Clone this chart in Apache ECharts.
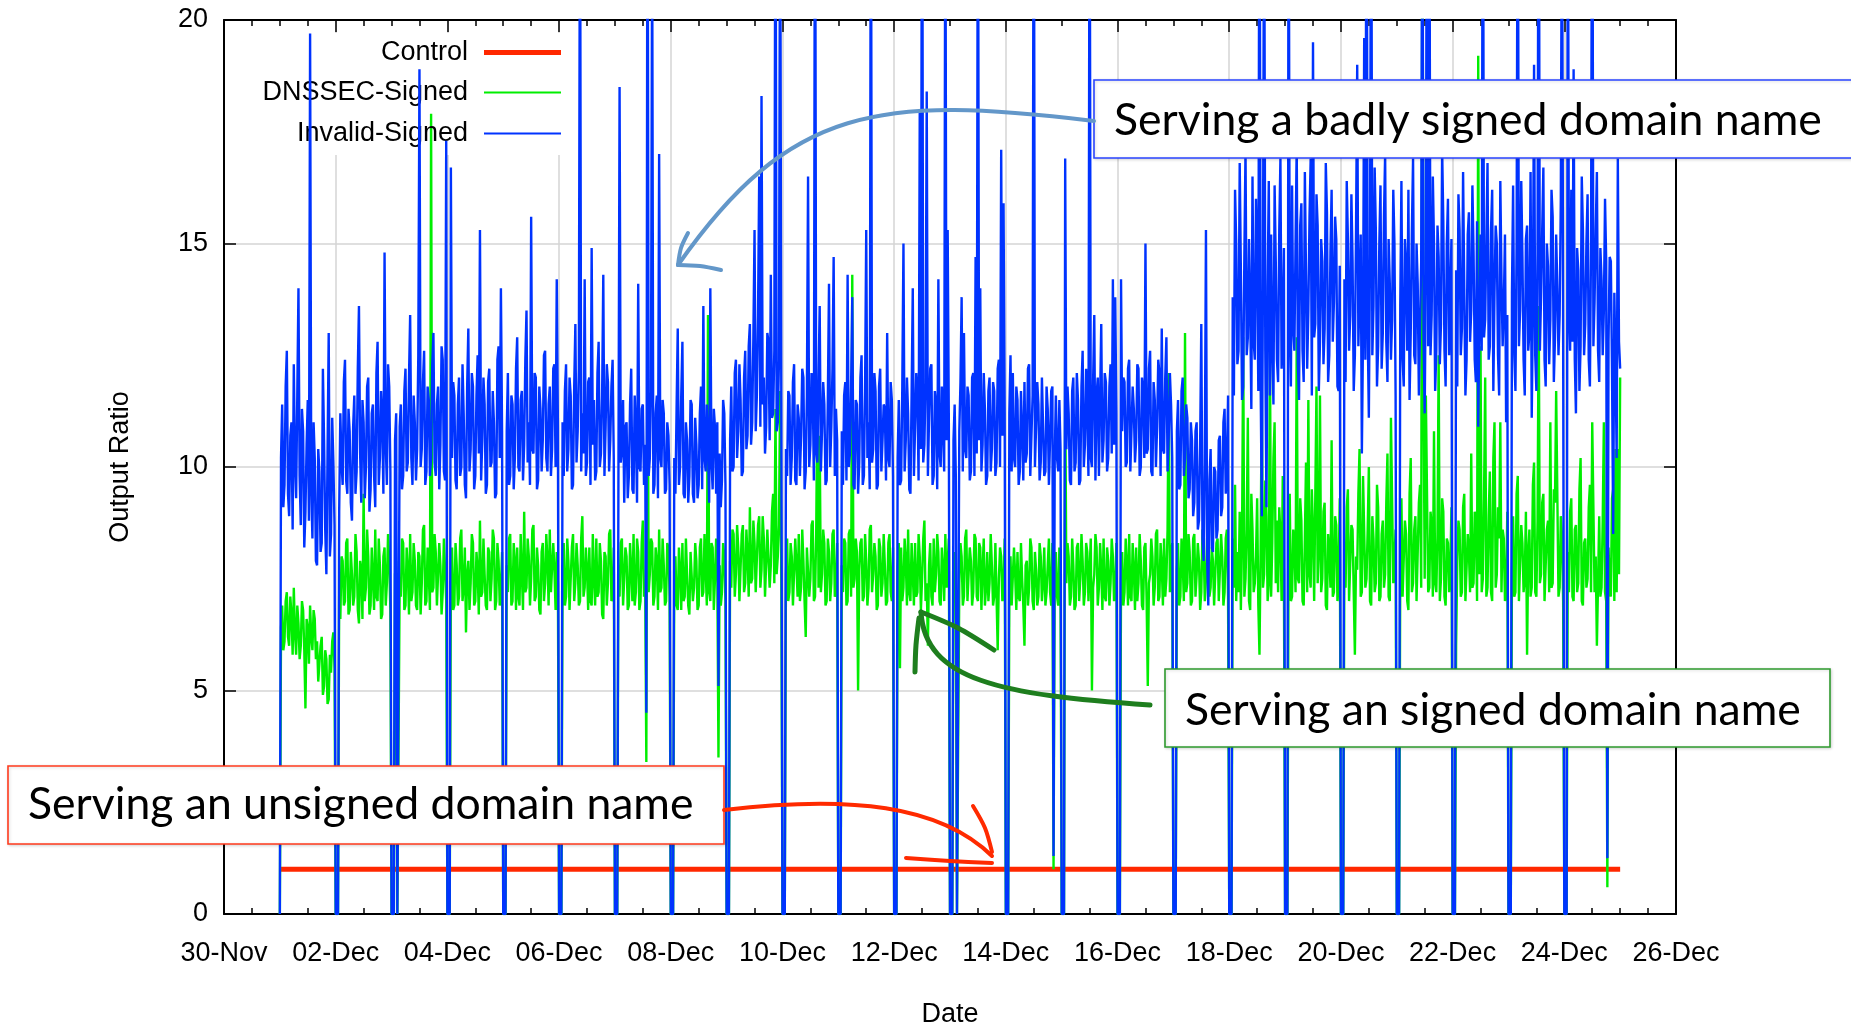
<!DOCTYPE html>
<html>
<head>
<meta charset="utf-8">
<script src="https://cdn.jsdelivr.net/npm/echarts@6/dist/echarts.min.js"></script>
<style>
  html, body { margin: 0; padding: 0; background: #ffffff; overflow: hidden; }
  #chart { width: 1851px; height: 1025px; }
</style>
</head>
<body>
<div id="chart"></div>
<script>
// Axis tick labels (x axis is counted in days after 30-Nov)
const xTickLabels = ['30-Nov', '02-Dec', '04-Dec', '06-Dec', '08-Dec', '10-Dec', '12-Dec',
                     '14-Dec', '16-Dec', '18-Dec', '20-Dec', '22-Dec', '24-Dec', '26-Dec'];
const seriesNames = ['Control', 'DNSSEC-Signed', 'Invalid-Signed'];

// Sampling: measurements start on 01-Dec, one sample every 30 minutes
const firstDay = 1;
const samplesPerDay = 48;

// Control: one value per day, 01-Dec .. 25-Dec
const controlDaily = [1.0, 1.0, 1.0, 1.0, 1.0, 1.0, 1.0, 1.0, 1.0, 1.0, 1.0, 1.0, 1.0,
                      1.0, 1.0, 1.0, 1.0, 1.0, 1.0, 1.0, 1.0, 1.0, 1.0, 1.0, 1.0];

// DNSSEC-Signed: one row per day (01-Dec .. 24-Dec, 48 samples each) plus the closing sample
const dnssecSigned = [
  0, 6.4, 6.9, 5.9, 6.1, 7.0, 7.2, 6.2, 6.0, 7.1, 6.7, 5.8, 7.3, 6.3, 5.8, 6.9, 6.5, 5.7, 6.0, 7.0, 6.8, 5.9, 4.6, 6.6, 6.4, 5.6, 6.9, 6.2, 5.9, 6.8, 6.6, 5.7, 6.1, 5.2, 5.6, 6.0, 6.2, 4.9, 5.1, 5.9, 5.7, 4.7, 4.8, 5.8, 5.4, 6.1, 6.3, 5.5,
  0, 0, 0, 7.2, 6.6, 8.0, 7.9, 6.9, 7.0, 8.3, 8.4, 6.7, 6.8, 8.1, 7.6, 6.9, 7.1, 8.5, 8.1, 6.8, 6.5, 7.9, 7.7, 6.6, 9.4, 7.0, 7.3, 8.6, 8.0, 6.7, 6.9, 8.2, 7.5, 6.8, 8.6, 7.1, 7.0, 8.4, 7.8, 6.6, 6.7, 8.0, 8.2, 6.9, 7.4, 8.5, 7.9, 6.8,
  0, 0, 0, 7.6, 7.9, 0, 0, 7.4, 7.1, 8.4, 8.3, 6.8, 6.9, 8.2, 7.7, 6.7, 8.5, 7.0, 7.2, 8.3, 7.9, 6.9, 6.8, 8.1, 8.0, 6.7, 7.4, 8.6, 8.7, 6.9, 7.0, 8.2, 7.6, 6.8, 17.9, 7.2, 7.3, 8.5, 8.1, 6.9, 6.9, 8.3, 7.8, 6.7, 7.2, 8.4, 8.4, 7.0,
  0, 0, 0, 7.5, 8.2, 6.8, 6.9, 8.3, 7.8, 6.9, 7.1, 8.4, 8.6, 7.0, 7.3, 8.2, 6.3, 7.6, 7.9, 6.8, 7.4, 8.5, 8.3, 6.9, 7.0, 8.1, 7.7, 6.7, 8.8, 7.1, 7.2, 8.4, 7.6, 6.9, 6.8, 8.2, 8.1, 7.0, 7.5, 8.6, 8.4, 6.8, 7.0, 8.3, 7.9, 6.9, 7.3, 8.1,
  0, 0, 0, 7.8, 7.2, 8.4, 8.5, 6.9, 7.0, 8.3, 7.9, 6.8, 8.2, 7.1, 6.9, 8.5, 7.6, 6.8, 9.0, 7.2, 7.3, 8.4, 8.0, 6.9, 7.5, 8.6, 8.7, 7.0, 7.1, 8.2, 7.8, 6.8, 6.7, 8.1, 8.3, 7.0, 7.4, 8.5, 7.9, 6.9, 8.6, 7.2, 7.2, 8.3, 7.7, 6.8, 8.1, 7.4,
  0, 0, 0, 7.6, 8.3, 6.9, 7.1, 8.4, 7.9, 6.8, 6.8, 8.2, 8.5, 7.0, 7.4, 8.3, 7.8, 6.9, 7.0, 8.4, 8.9, 7.1, 7.3, 8.2, 7.7, 6.8, 8.2, 7.0, 6.9, 8.5, 7.5, 6.9, 8.4, 7.1, 7.2, 8.3, 7.9, 6.7, 6.6, 8.1, 8.0, 6.9, 7.4, 8.5, 8.6, 7.0, 7.1, 8.2,
  0, 0, 0, 7.8, 7.1, 8.3, 8.4, 6.9, 7.5, 8.2, 8.0, 6.8, 6.9, 8.3, 7.7, 7.0, 8.5, 6.9, 7.2, 8.4, 8.1, 6.8, 7.0, 8.3, 8.8, 7.1, 7.4, 3.4, 14.0, 7.2, 7.6, 8.4, 8.3, 6.9, 7.1, 8.2, 7.9, 6.8, 8.6, 7.2, 7.3, 8.4, 7.8, 6.9, 7.0, 8.3, 8.2, 7.1,
  0, 0, 0, 7.4, 8.0, 6.9, 6.8, 8.2, 7.7, 6.8, 8.3, 7.0, 7.1, 8.4, 7.6, 6.9, 6.7, 8.1, 8.1, 7.0, 7.3, 8.3, 7.9, 6.8, 6.9, 8.2, 8.4, 7.1, 7.2, 8.5, 7.7, 6.9, 13.4, 7.2, 7.0, 8.3, 8.2, 6.8, 7.5, 8.4, 7.6, 3.5, 7.8, 6.9, 7.2, 8.3, 8.0, 7.0,
  0, 0, 0, 7.9, 7.3, 8.6, 8.5, 7.1, 7.6, 8.7, 8.2, 7.0, 7.0, 8.5, 8.7, 7.2, 7.4, 8.6, 8.0, 7.1, 9.1, 7.4, 7.5, 8.8, 8.3, 7.2, 7.2, 8.7, 8.9, 7.3, 7.7, 8.9, 8.4, 7.1, 7.1, 8.6, 8.6, 7.3, 7.8, 9.0, 9.4, 7.4, 11.3, 7.6, 8.0, 8.7, 11.7, 7.5,
  0, 0, 0, 7.6, 8.4, 7.0, 7.2, 8.3, 8.0, 6.9, 6.9, 8.4, 7.8, 7.1, 8.5, 7.0, 7.3, 8.6, 7.9, 7.0, 6.2, 8.2, 8.2, 7.1, 7.5, 8.7, 8.8, 7.0, 7.1, 8.5, 11.7, 7.3, 10.7, 7.2, 7.6, 8.6, 8.3, 6.9, 7.0, 8.4, 8.1, 7.0, 7.4, 8.5, 8.6, 7.1, 7.2, 8.3,
  0, 0, 0, 7.8, 7.2, 8.4, 8.3, 6.9, 7.0, 8.5, 8.6, 7.1, 14.3, 7.3, 7.5, 8.4, 8.1, 5.0, 7.7, 8.3, 8.4, 7.0, 7.1, 8.5, 7.9, 6.9, 7.3, 8.6, 8.7, 7.2, 7.6, 8.3, 8.0, 6.8, 6.9, 8.4, 8.2, 7.1, 7.4, 8.5, 7.8, 6.9, 7.0, 8.3, 8.5, 7.2, 7.0, 8.2,
  0, 0, 0, 7.7, 8.3, 5.5, 8.2, 7.0, 7.3, 8.4, 7.9, 6.9, 8.6, 7.2, 7.0, 8.3, 7.6, 6.9, 8.3, 7.1, 7.2, 8.5, 8.0, 6.8, 7.5, 8.4, 8.8, 7.0, 7.4, 6.0, 7.8, 8.3, 7.1, 6.9, 8.4, 7.2, 7.6, 8.5, 8.1, 7.0, 6.9, 8.2, 7.7, 7.0, 8.5, 7.3, 7.3, 8.4,
  0, 0, 0, 7.5, 8.1, 7.0, 0, 0, 7.4, 8.3, 8.0, 6.9, 7.1, 8.4, 8.6, 7.0, 7.6, 8.2, 7.9, 6.9, 7.2, 8.5, 8.4, 7.1, 7.0, 8.3, 8.2, 6.8, 7.7, 8.4, 6.9, 7.3, 8.1, 7.0, 7.4, 8.5, 7.8, 6.9, 7.1, 8.3, 8.3, 5.9, 7.5, 8.2, 8.0, 7.0, 7.3, 8.4,
  0, 0, 0, 7.2, 8.0, 6.9, 6.9, 8.2, 7.6, 6.8, 8.1, 7.1, 7.0, 8.3, 7.5, 6.9, 6.0, 7.8, 7.9, 6.9, 7.3, 8.4, 8.2, 7.0, 6.8, 8.1, 7.7, 6.9, 7.1, 8.3, 8.0, 7.0, 7.4, 8.2, 6.9, 7.2, 7.8, 8.4, 7.2, 6.9, 8.3, 1.0, 7.5, 8.1, 7.1, 6.9, 8.2, 7.3,
  0, 0, 0, 12.1, 7.4, 8.3, 8.0, 6.9, 7.1, 8.4, 7.8, 6.8, 6.9, 8.2, 8.3, 7.0, 7.5, 8.5, 7.9, 6.9, 7.2, 8.3, 8.1, 7.0, 7.0, 8.4, 5.0, 7.3, 7.6, 8.5, 8.2, 6.9, 7.3, 8.3, 7.7, 6.8, 8.4, 7.1, 7.0, 8.2, 7.9, 6.9, 7.4, 8.4, 8.0, 7.0, 7.2, 8.3,
  0, 0, 0, 7.5, 8.1, 6.9, 7.2, 8.4, 7.8, 6.9, 8.5, 7.1, 7.0, 8.3, 7.7, 6.8, 8.2, 7.0, 7.4, 8.5, 7.9, 6.9, 6.8, 8.2, 8.3, 7.0, 5.1, 7.4, 7.6, 8.4, 8.0, 6.9, 7.3, 8.5, 8.6, 7.0, 7.1, 8.3, 7.8, 6.9, 8.4, 7.1, 7.5, 8.6, 12.1, 7.2, 7.9, 8.3,
  0, 0, 0, 7.7, 8.3, 6.9, 7.1, 8.4, 7.9, 7.0, 13.0, 7.2, 7.4, 8.5, 8.1, 6.9, 7.0, 8.4, 8.5, 7.1, 7.6, 8.3, 7.9, 6.8, 7.2, 8.6, 8.2, 7.0, 7.5, 8.4, 8.8, 7.1, 7.3, 8.2, 7.9, 6.9, 6.9, 8.3, 8.4, 7.0, 7.7, 8.5, 8.0, 6.9, 7.2, 8.4, 8.6, 7.1,
  0, 0, 0, 8.4, 7.3, 9.6, 7.0, 8.1, 7.2, 9.0, 6.8, 8.3, 12.9, 7.1, 7.5, 8.6, 11.1, 7.0, 6.8, 9.4, 8.6, 7.2, 7.4, 8.0, 9.3, 6.9, 5.8, 8.2, 11.8, 7.3, 7.6, 9.7, 8.9, 7.0, 7.4, 12.7, 7.1, 8.3, 10.2, 11.0, 7.4, 8.8, 7.2, 9.1, 8.5, 7.0, 9.8, 7.6,
  0, 0, 0, 7.8, 9.4, 7.0, 7.1, 8.6, 8.3, 7.2, 12.9, 7.5, 7.4, 9.3, 8.8, 7.0, 6.9, 8.4, 10.1, 7.2, 11.5, 7.6, 7.3, 9.5, 8.6, 7.0, 7.0, 11.8, 7.4, 8.1, 11.6, 7.2, 7.5, 9.0, 9.2, 6.9, 6.8, 8.5, 8.1, 7.3, 10.6, 7.1, 7.2, 8.9, 8.7, 7.0, 7.6, 9.3,
  0, 0, 0, 8.2, 7.3, 9.1, 9.5, 7.0, 7.0, 8.7, 8.6, 7.2, 5.8, 8.0, 7.7, 9.4, 10.4, 7.1, 7.2, 9.8, 9.8, 7.3, 7.5, 8.6, 10.0, 7.0, 6.9, 8.9, 8.4, 7.2, 7.4, 9.6, 9.1, 7.0, 7.1, 8.5, 8.8, 7.3, 7.6, 9.2, 10.3, 7.1, 7.0, 11.1, 11.1, 7.4, 7.9, 8.6,
  0, 0, 0, 7.6, 9.3, 7.1, 7.1, 8.8, 8.5, 7.0, 6.8, 9.4, 10.2, 7.2, 7.4, 8.6, 8.9, 7.0, 7.0, 9.2, 9.6, 7.3, 24.0, 11.8, 7.5, 11.6, 11.6, 7.2, 7.3, 9.0, 8.7, 7.1, 10.8, 7.4, 7.2, 8.5, 12.5, 7.0, 7.5, 9.3, 9.0, 7.1, 6.9, 8.4, 8.3, 7.2, 7.7, 9.1,
  0, 0, 0, 6.0, 7.9, 8.8, 8.6, 7.1, 7.2, 9.1, 9.4, 7.0, 7.0, 8.5, 8.1, 7.2, 10.3, 7.3, 7.4, 9.0, 8.8, 7.0, 19.2, 7.6, 12.7, 7.2, 7.5, 9.3, 12.0, 7.1, 7.3, 8.9, 9.9, 7.2, 7.0, 10.2, 11.0, 7.3, 7.6, 9.1, 8.4, 11.0, 7.2, 8.6, 8.4, 7.0, 7.2, 9.0,
  0, 0, 0, 7.7, 8.9, 7.1, 7.2, 9.4, 9.8, 7.0, 7.0, 8.7, 8.3, 7.2, 7.5, 9.0, 5.8, 8.1, 8.6, 7.1, 7.3, 9.6, 10.1, 7.2, 7.1, 8.8, 13.6, 7.4, 7.6, 9.2, 9.4, 7.0, 7.0, 8.6, 8.8, 7.2, 11.0, 7.3, 7.4, 9.5, 9.2, 11.7, 11.7, 7.1, 7.3, 8.9, 8.5, 7.0,
  0, 0, 0, 8.1, 7.2, 9.0, 9.3, 7.1, 7.0, 8.6, 8.7, 7.2, 7.4, 9.5, 10.2, 7.0, 6.9, 8.3, 8.4, 7.3, 7.5, 9.1, 9.6, 7.2, 11.0, 11.0, 7.2, 8.0, 6.0, 7.4, 8.9, 7.1, 7.3, 8.8, 11.0, 7.2, 7.0, 0.6, 8.2, 7.4, 7.1, 9.3, 9.5, 7.0, 10.4, 7.2, 10.4, 7.6,
  12.0
];

// Invalid-Signed: one row per day (01-Dec .. 24-Dec, 48 samples each) plus the closing sample
const invalidSigned = [
  0, 10.2, 11.4, 9.1, 9.6, 11.8, 12.6, 9.4, 8.9, 10.7, 11.0, 8.6, 12.3, 10.1, 9.3, 11.6, 14.0, 9.8, 8.7, 11.3, 10.8, 8.2, 9.0, 10.5, 11.5, 8.8, 19.7, 9.5, 8.4, 11.0, 10.2, 7.9, 7.8, 10.4, 9.9, 8.1, 8.3, 12.2, 10.6, 8.6, 7.6, 10.3, 13.0, 8.0, 8.5, 11.1, 10.1, 8.7,
  0, 0, 0, 9.0, 11.2, 10.1, 9.6, 11.9, 12.4, 9.7, 9.4, 11.3, 10.8, 9.2, 8.8, 10.9, 11.6, 9.4, 9.9, 12.2, 13.6, 10.3, 9.2, 11.5, 11.0, 9.3, 10.0, 11.8, 12.0, 9.0, 9.5, 11.2, 11.4, 9.8, 9.1, 12.1, 12.8, 9.6, 10.2, 11.7, 11.1, 9.4, 14.8, 10.5, 9.6, 12.3, 11.8, 9.9,
  0, 0, 0, 10.6, 11.2, 0, 0, 10.9, 11.4, 9.5, 9.8, 11.7, 12.2, 9.9, 10.1, 12.0, 13.4, 10.2, 9.6, 11.6, 11.0, 9.7, 10.4, 12.5, 18.9, 10.0, 10.4, 11.9, 12.6, 9.6, 9.9, 11.8, 11.5, 9.8, 10.2, 12.3, 13.0, 10.1, 9.8, 11.4, 11.8, 9.5, 10.5, 12.7, 12.4, 9.9, 9.7, 17.3,
  0, 0, 0, 16.7, 10.2, 11.9, 11.6, 9.7, 9.5, 11.4, 12.0, 9.8, 10.0, 12.3, 11.2, 9.6, 9.3, 11.8, 13.1, 9.9, 10.4, 12.1, 11.8, 9.5, 9.8, 11.6, 12.5, 10.3, 15.3, 9.7, 10.6, 12.0, 11.4, 9.4, 9.6, 11.9, 12.2, 10.0, 10.1, 11.7, 11.0, 9.3, 9.4, 12.4, 12.7, 10.2, 14.0, 10.8,
  0, 0, 0, 10.8, 12.1, 9.6, 9.8, 11.6, 11.4, 9.5, 10.2, 12.2, 12.9, 10.0, 9.9, 11.5, 11.7, 9.7, 10.5, 12.4, 13.5, 10.1, 11.0, 9.6, 15.6, 10.4, 10.3, 12.1, 12.0, 9.5, 9.7, 11.8, 11.3, 9.9, 10.6, 12.5, 12.6, 10.2, 9.9, 11.4, 11.8, 9.8, 10.4, 12.2, 12.3, 10.0, 14.2, 10.9,
  0, 0, 0, 11.0, 9.8, 11.7, 12.3, 9.9, 10.4, 12.0, 11.6, 9.5, 9.6, 11.8, 13.2, 10.1, 10.8, 12.2, 24.0, 9.9, 11.2, 10.3, 14.2, 9.8, 10.1, 11.9, 12.0, 9.6, 14.9, 10.5, 11.5, 9.7, 9.9, 12.1, 12.8, 10.0, 10.3, 11.6, 14.3, 9.8, 10.9, 12.3, 11.9, 9.9, 10.6, 11.8, 12.4, 10.2,
  0, 0, 0, 9.6, 18.5, 10.1, 10.4, 11.5, 9.2, 10.9, 11.0, 9.3, 9.8, 11.4, 12.2, 9.5, 9.4, 11.6, 10.8, 9.2, 14.1, 10.0, 9.9, 11.3, 11.4, 9.6, 10.5, 4.5, 26.0, 9.8, 10.2, 11.7, 22.0, 9.4, 9.6, 11.2, 11.6, 9.3, 17.0, 10.2, 10.0, 11.5, 11.2, 9.4, 9.5, 11.0, 10.7, 9.6,
  0, 0, 0, 10.2, 9.4, 11.3, 13.1, 9.6, 10.0, 11.6, 12.8, 9.4, 9.3, 11.0, 10.6, 9.2, 9.8, 11.5, 11.4, 9.4, 9.2, 11.1, 10.5, 9.3, 9.6, 11.2, 11.8, 9.5, 13.6, 10.2, 9.9, 11.4, 10.4, 9.2, 14.0, 10.1, 9.5, 11.3, 10.9, 9.4, 11.0, 5.1, 10.3, 9.1, 9.7, 11.5, 11.2, 9.6,
  0, 0, 0, 10.6, 11.8, 9.9, 10.0, 12.1, 12.4, 10.2, 10.8, 12.3, 11.5, 9.8, 9.9, 12.0, 12.6, 10.4, 10.7, 12.7, 13.2, 10.5, 11.0, 12.9, 15.3, 10.8, 11.6, 13.4, 16.5, 10.9, 18.3, 11.4, 12.0, 10.3, 10.9, 13.0, 12.8, 10.6, 14.3, 11.1, 11.2, 12.6, 25.0, 10.8, 11.0, 12.4, 24.0, 11.5,
  0, 0, 0, 10.4, 9.8, 11.7, 11.6, 9.6, 10.2, 11.9, 12.3, 9.7, 9.6, 11.4, 11.1, 9.8, 10.7, 12.2, 12.0, 9.5, 9.9, 11.6, 16.5, 10.0, 10.5, 12.1, 11.8, 9.7, 26.0, 10.3, 10.1, 12.0, 13.6, 9.9, 10.8, 11.9, 11.4, 9.6, 9.7, 11.5, 14.1, 10.0, 10.9, 12.2, 14.7, 9.8, 11.3, 10.6,
  0, 0, 0, 10.8, 9.6, 11.6, 11.9, 9.7, 14.3, 10.0, 10.3, 11.8, 13.8, 9.6, 9.5, 11.5, 11.4, 9.4, 10.1, 12.0, 12.5, 9.6, 9.8, 11.7, 15.3, 10.2, 11.0, 9.5, 25.0, 10.1, 10.4, 12.1, 11.7, 9.5, 9.6, 11.8, 12.2, 9.9, 10.6, 11.4, 11.3, 9.7, 13.0, 10.2, 10.0, 11.9, 11.5, 9.8,
  0, 0, 0, 10.2, 11.5, 9.6, 9.7, 11.8, 15.0, 9.9, 10.6, 12.0, 11.2, 9.5, 9.4, 11.6, 14.0, 9.8, 10.9, 12.1, 11.6, 9.7, 18.0, 10.4, 27.0, 10.1, 10.5, 11.9, 18.4, 9.8, 11.1, 12.2, 12.3, 9.6, 9.8, 11.7, 11.4, 9.5, 14.2, 10.3, 10.0, 11.8, 11.8, 9.9, 24.0, 10.6, 15.3, 11.0,
  0, 0, 0, 10.6, 11.4, 9.8, 0, 0, 10.8, 11.9, 13.8, 9.9, 13.0, 10.4, 10.2, 11.8, 11.6, 9.7, 9.9, 12.0, 12.1, 9.8, 14.7, 10.3, 25.0, 10.6, 14.0, 9.9, 10.5, 12.1, 11.3, 9.6, 9.8, 11.7, 12.0, 9.9, 10.4, 11.9, 11.7, 9.8, 10.1, 12.2, 12.4, 10.0, 17.1, 10.7, 15.9, 11.2,
  0, 0, 0, 11.2, 12.5, 9.9, 12.1, 10.2, 10.0, 11.8, 11.5, 9.6, 9.9, 11.7, 10.8, 9.7, 11.9, 10.1, 10.3, 12.2, 12.3, 9.8, 9.8, 11.6, 26.0, 10.0, 10.9, 11.9, 11.4, 9.7, 10.1, 12.0, 12.0, 9.8, 9.9, 11.8, 11.3, 9.6, 10.6, 11.7, 11.8, 1.3, 10.2, 11.6, 10.2, 9.9, 11.5, 10.4,
  0, 0, 0, 16.9, 10.4, 11.8, 11.2, 9.7, 9.6, 11.7, 12.0, 9.9, 10.1, 12.1, 11.5, 9.6, 9.7, 11.8, 12.6, 10.0, 10.5, 12.2, 11.3, 9.8, 25.0, 10.2, 10.0, 11.9, 13.4, 9.7, 11.6, 12.0, 9.8, 11.5, 13.2, 10.1, 10.6, 12.1, 11.9, 9.9, 10.2, 11.8, 12.3, 10.3, 14.2, 10.5, 13.8, 11.2,
  0, 0, 0, 14.2, 10.8, 12.0, 11.9, 10.0, 10.1, 12.2, 12.4, 9.9, 9.9, 11.8, 11.3, 10.1, 10.6, 12.3, 12.2, 9.8, 10.0, 12.0, 11.7, 10.2, 15.0, 10.3, 10.4, 12.2, 12.6, 9.9, 9.8, 11.9, 11.5, 10.0, 10.9, 12.4, 12.1, 9.8, 13.1, 10.4, 10.3, 12.0, 12.9, 9.9, 10.7, 12.1, 11.4, 10.2,
  0, 0, 0, 10.8, 11.5, 9.5, 9.6, 11.7, 12.0, 9.8, 10.2, 11.4, 11.1, 9.3, 9.5, 11.0, 10.6, 8.9, 9.2, 10.8, 11.0, 8.6, 8.8, 10.5, 13.2, 8.4, 7.9, 10.1, 15.3, 8.0, 6.9, 9.7, 10.4, 8.2, 8.1, 10.0, 9.9, 8.4, 8.6, 10.6, 10.7, 8.9, 9.1, 11.0, 11.3, 9.4, 10.0, 11.6,
  0, 0, 0, 13.8, 11.6, 16.2, 15.0, 12.3, 12.6, 16.8, 14.4, 11.5, 11.8, 14.7, 17.1, 12.5, 12.9, 15.1, 13.6, 11.3, 16.5, 12.8, 12.4, 16.0, 14.8, 11.7, 26.0, 11.9, 8.9, 14.3, 24.0, 12.6, 9.1, 14.0, 16.4, 11.6, 15.2, 12.7, 11.4, 16.3, 14.6, 12.4, 11.9, 15.3, 16.9, 12.2, 13.1, 14.9,
  0, 0, 0, 25.0, 13.4, 11.8, 16.3, 13.1, 12.6, 15.0, 17.2, 12.3, 11.5, 15.4, 15.9, 12.6, 11.9, 16.6, 14.3, 12.2, 13.5, 15.6, 16.9, 11.6, 19.5, 12.9, 13.2, 16.1, 15.4, 11.7, 12.8, 15.1, 14.6, 12.3, 13.1, 16.8, 15.7, 11.9, 12.5, 14.8, 16.2, 12.8, 13.7, 15.6, 15.1, 11.8, 11.7, 14.5,
  0, 0, 0, 14.2, 11.9, 16.4, 15.1, 12.6, 13.4, 16.1, 14.6, 11.7, 12.5, 15.3, 19.0, 12.7, 13.9, 15.2, 10.3, 13.0, 19.6, 12.4, 26.0, 13.1, 11.1, 14.8, 25.0, 12.5, 13.6, 16.7, 15.3, 11.8, 12.7, 15.0, 16.3, 12.2, 13.0, 15.6, 17.0, 12.8, 11.9, 15.1, 14.1, 12.4, 13.3, 16.2, 15.0, 11.6,
  0, 0, 0, 13.6, 16.4, 12.4, 11.8, 15.1, 14.5, 12.6, 16.2, 11.5, 13.0, 15.3, 16.9, 12.5, 12.3, 15.0, 14.1, 11.6, 11.6, 14.6, 25.0, 12.9, 11.2, 14.4, 26.0, 12.7, 24.0, 12.5, 13.4, 16.5, 15.0, 11.7, 12.6, 15.4, 14.7, 12.3, 13.2, 17.1, 15.5, 12.6, 11.8, 15.0, 16.0, 12.5, 13.8, 15.1,
  0, 0, 0, 14.4, 11.8, 16.1, 15.3, 12.5, 13.1, 16.6, 14.0, 11.6, 12.4, 15.2, 15.7, 12.8, 13.5, 16.3, 14.8, 12.4, 11.9, 15.5, 10.9, 13.2, 15.2, 12.6, 26.0, 12.9, 13.3, 15.1, 16.8, 12.4, 12.7, 15.3, 16.2, 11.7, 13.9, 15.4, 15.0, 12.5, 11.6, 16.4, 14.2, 12.7, 13.6, 15.2, 11.0, 13.4,
  0, 0, 0, 13.9, 16.3, 12.5, 11.7, 15.0, 25.0, 12.7, 13.5, 16.4, 14.7, 12.4, 11.6, 15.1, 15.4, 12.6, 13.0, 16.6, 11.1, 13.6, 19.0, 12.5, 11.7, 14.8, 26.0, 12.6, 13.8, 15.3, 16.7, 12.4, 11.8, 15.0, 14.5, 12.3, 13.3, 16.2, 15.6, 11.9, 12.9, 15.2, 14.0, 12.5, 13.4, 16.0, 24.0, 13.0,
  0, 0, 0, 25.0, 13.6, 12.6, 16.2, 12.8, 18.9, 12.4, 11.2, 14.9, 14.4, 11.7, 12.7, 16.5, 15.3, 12.5, 13.2, 15.0, 16.1, 12.4, 11.8, 15.1, 26.0, 12.7, 13.7, 15.3, 16.6, 12.6, 11.9, 14.9, 14.2, 12.5, 13.5, 16.0, 14.6, 1.25, 12.8, 14.7, 14.6, 12.2, 8.5, 13.9, 12.4, 10.2, 16.9, 12.8,
  12.2
];

// ---- helpers -------------------------------------------------------------
const toPoints = (values, start, perDay) => values.map((v, i) => [start + i / perDay, v]);

const FONT = 'Liberation Sans, Arial, sans-serif';
const NOTE_FONT = 'Lato';
const BLACK = '#000000';
const GRID_GRAY = '#d4d4d4';
const COLORS = { control: '#ff2800', dnssec: '#00ee00', invalid: '#0033ff' };

// font size that makes a caption span a given width
function fitFontSize(text, family, width) {
  const ctx = document.createElement('canvas').getContext('2d');
  ctx.font = '100px ' + family;
  return 100 * width / ctx.measureText(text).width;
}

const chart = echarts.init(document.getElementById('chart'), null, { renderer: 'canvas' });

const tickStyle = { color: BLACK, width: 1.5 };
function xAxisBase(pos) {
  return {
    type: 'value', min: 0, max: 26, interval: 2, position: pos,
    axisLine: { show: true, onZero: false, lineStyle: { color: BLACK, width: 2 } },
    axisTick: { show: true, inside: true, length: 12, lineStyle: tickStyle },
    minorTick: { show: true, splitNumber: 4, length: 6, lineStyle: tickStyle },
    splitLine: { show: false },
    axisLabel: { show: false }
  };
}
function yAxisBase(pos) {
  return {
    type: 'value', min: 0, max: 20, interval: 5, position: pos,
    axisLine: { show: true, onZero: false, lineStyle: { color: BLACK, width: 2 } },
    axisTick: { show: true, inside: true, length: 12, lineStyle: tickStyle },
    splitLine: { show: false },
    axisLabel: { show: false }
  };
}

const bottomX = Object.assign(xAxisBase('bottom'), {
  splitLine: { show: true, lineStyle: { color: GRID_GRAY, width: 1.5 } },
  axisLabel: {
    show: true, margin: 26, fontFamily: FONT, fontSize: 27, color: BLACK,
    showMinLabel: true, showMaxLabel: true,
    formatter: v => xTickLabels[Math.round(v / 2)] || ''
  },
  name: 'Date', nameLocation: 'middle', nameGap: 87,
  nameTextStyle: { fontFamily: FONT, fontSize: 27, color: BLACK }
});
const leftY = Object.assign(yAxisBase('left'), {
  splitLine: { show: true, lineStyle: { color: GRID_GRAY, width: 1.5 } },
  axisLabel: { show: true, margin: 16, fontFamily: FONT, fontSize: 27, color: BLACK },
  name: 'Output Ratio', nameLocation: 'middle', nameGap: 90, nameRotate: 90,
  nameTextStyle: { fontFamily: FONT, fontSize: 27, color: BLACK }
});

function legendItem(name, centerY, thickness) {
  return {
    data: [{ name: name, icon: 'rect' }],
    orient: 'vertical', align: 'right',
    right: 1851 - 561, top: centerY - 14,
    itemWidth: 77, itemHeight: thickness, padding: 0,
    selectedMode: false,
    textStyle: { fontFamily: FONT, fontSize: 27, color: BLACK, padding: [0, 11, 0, 0] }
  };
}

// ---- callout boxes and arrows ------------------------------------------
const noteSize = fitFontSize('Serving a badly signed domain name', NOTE_FONT, 708);
function noteBox(x, y, w, h, stroke, text, tx, ty) {
  return [
    { type: 'rect', z: 100, shape: { x: x, y: y, width: w, height: h },
      style: { fill: '#ffffff', stroke: stroke, lineWidth: 1.6,
               shadowBlur: 3, shadowColor: 'rgba(0,0,0,0.15)', shadowOffsetX: 1, shadowOffsetY: 1 } },
    { type: 'text', z: 101, x: tx, y: ty,
      style: { text: text, fill: BLACK, fontFamily: NOTE_FONT, fontSize: noteSize,
               align: 'left', verticalAlign: 'middle', textAlign: 'left', textVerticalAlign: 'middle' } }
  ];
}
function curve(p0, c1, c2, p1, color, w) {
  return { type: 'bezierCurve', z: 102,
    shape: { x1: p0[0], y1: p0[1], cpx1: c1[0], cpy1: c1[1], cpx2: c2[0], cpy2: c2[1], x2: p1[0], y2: p1[1] },
    style: { stroke: color, lineWidth: w, fill: 'none', lineCap: 'round' } };
}
function stroke(points, color, w) {
  return { type: 'polyline', z: 102, shape: { points: points, smooth: 0.3 },
    style: { stroke: color, lineWidth: w, fill: 'none', lineCap: 'round', lineJoin: 'round' } };
}

const ARROW_BLUE = '#6397c9', ARROW_GREEN = '#1e7e1e', ARROW_RED = '#ff2a00';

const graphics = [
  // opaque key background behind the legend (hides the grid, not the data)
  { type: 'rect', z: 1, silent: true, shape: { x: 232, y: 33, width: 358, height: 122 },
    style: { fill: '#ffffff' } },

  ...noteBox(1094, 80, 800, 78, '#2a44ff', 'Serving a badly signed domain name', 1114, 121),
  ...noteBox(1165, 669, 665, 78, '#2e9a2e', 'Serving an signed domain name', 1185, 711),
  ...noteBox(8, 766, 716, 78, '#ff3b1e', 'Serving an unsigned domain name', 28, 805),

  curve([1094, 121], [880, 95], [790, 105], [678, 265], ARROW_BLUE, 4),
  stroke([[678, 265], [700, 266], [721, 270]], ARROW_BLUE, 4),
  stroke([[678, 265], [681, 248], [688, 233]], ARROW_BLUE, 4),

  curve([1150, 705], [1000, 695], [925, 680], [921, 612], ARROW_GREEN, 5),
  stroke([[921, 612], [958, 628], [994, 650]], ARROW_GREEN, 5),
  stroke([[919, 618], [916, 645], [915, 672]], ARROW_GREEN, 5),

  curve([724, 810], [850, 795], [940, 805], [992, 856], ARROW_RED, 4),
  stroke([[973, 806], [985, 828], [992, 852]], ARROW_RED, 4),
  stroke([[906, 858], [950, 861], [992, 863]], ARROW_RED, 4)
];

const option = {
  animation: false,
  backgroundColor: '#ffffff',
  grid: { left: 224, right: 175, top: 20, bottom: 111, containLabel: false, outerBoundsMode: 'none' },
  xAxis: [bottomX, xAxisBase('top')],
  yAxis: [leftY, yAxisBase('right')],
  legend: [
    legendItem(seriesNames[0], 53, 5),
    legendItem(seriesNames[1], 93, 2),
    legendItem(seriesNames[2], 134, 2)
  ],
  series: [
    { name: seriesNames[0], type: 'line', xAxisIndex: 0, yAxisIndex: 0,
      data: toPoints(controlDaily, firstDay, 1),
      showSymbol: false, symbol: 'none', clip: true, z: 2,
      itemStyle: { color: COLORS.control },
      lineStyle: { color: COLORS.control, width: 5 } },
    { name: seriesNames[1], type: 'line', xAxisIndex: 0, yAxisIndex: 0,
      data: toPoints(dnssecSigned, firstDay, samplesPerDay),
      showSymbol: false, symbol: 'none', clip: true, z: 3, sampling: null,
      itemStyle: { color: COLORS.dnssec },
      lineStyle: { color: COLORS.dnssec, width: 2.4 } },
    { name: seriesNames[2], type: 'line', xAxisIndex: 0, yAxisIndex: 0,
      data: toPoints(invalidSigned, firstDay, samplesPerDay),
      showSymbol: false, symbol: 'none', clip: true, z: 4, sampling: null,
      itemStyle: { color: COLORS.invalid },
      lineStyle: { color: COLORS.invalid, width: 2.4 } }
  ],
  graphic: { elements: graphics }
};

chart.setOption(option);
</script>
</body>
</html>
